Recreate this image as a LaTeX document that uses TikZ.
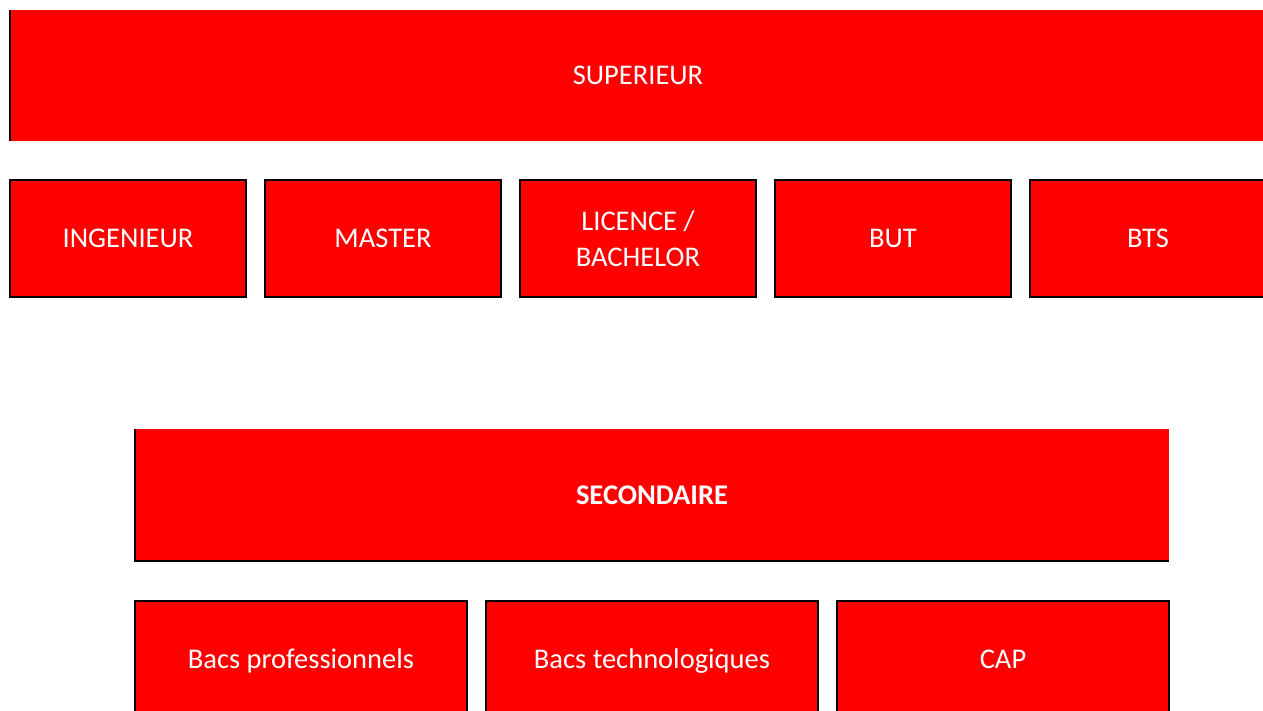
\documentclass[tikz,border=0pt]{standalone}
\usepackage{fontspec}
\setmainfont{Carlito}

\tikzset{
  band/.style={fill=red, text=white, inner sep=0pt, outer sep=0pt,
    font=\fontsize{28.5}{36}\selectfont, text height=18.4pt, text depth=0pt},
  cell/.style={band, draw=black, line width=2pt, align=center,
    minimum width=236, minimum height=117},
  bac/.style={cell, minimum width=332}
}

\begin{document}
\begin{tikzpicture}[x=1pt, y=-1pt]

  \clip (0,0) rectangle (1263,711);
  \fill[white] (0,0) rectangle (1263,711);

  \node[band, minimum width=1256, minimum height=131] (sup) at (638,75.5) {SUPERIEUR};
  \draw[line width=2pt] (sup.north west) -- (sup.south west);

  \node[cell] (ing) at (128,238.5) {INGENIEUR};
  \node[cell] (master) at (383,238.5) {MASTER};
  \node[cell, text height=, text depth=] (licence) at (638,238.5) {LICENCE /\\BACHELOR};
  \node[cell] (but) at (893,238.5) {BUT};
  \node[cell] (bts) at (1148,238.5) {BTS};

  \node[band, minimum width=1034, minimum height=132] (sec) at (652,495) {\bfseries SECONDAIRE};
  \draw[line width=2pt] (sec.north west) -- (sec.south west) -- (sec.south east);

  \node[bac] (pro) at (301,659.5) {Bacs professionnels};
  \node[bac] (techno) at (652,659.5) {Bacs technologiques};
  \node[bac] (cap) at (1003,659.5) {CAP};

\end{tikzpicture}
\end{document}
